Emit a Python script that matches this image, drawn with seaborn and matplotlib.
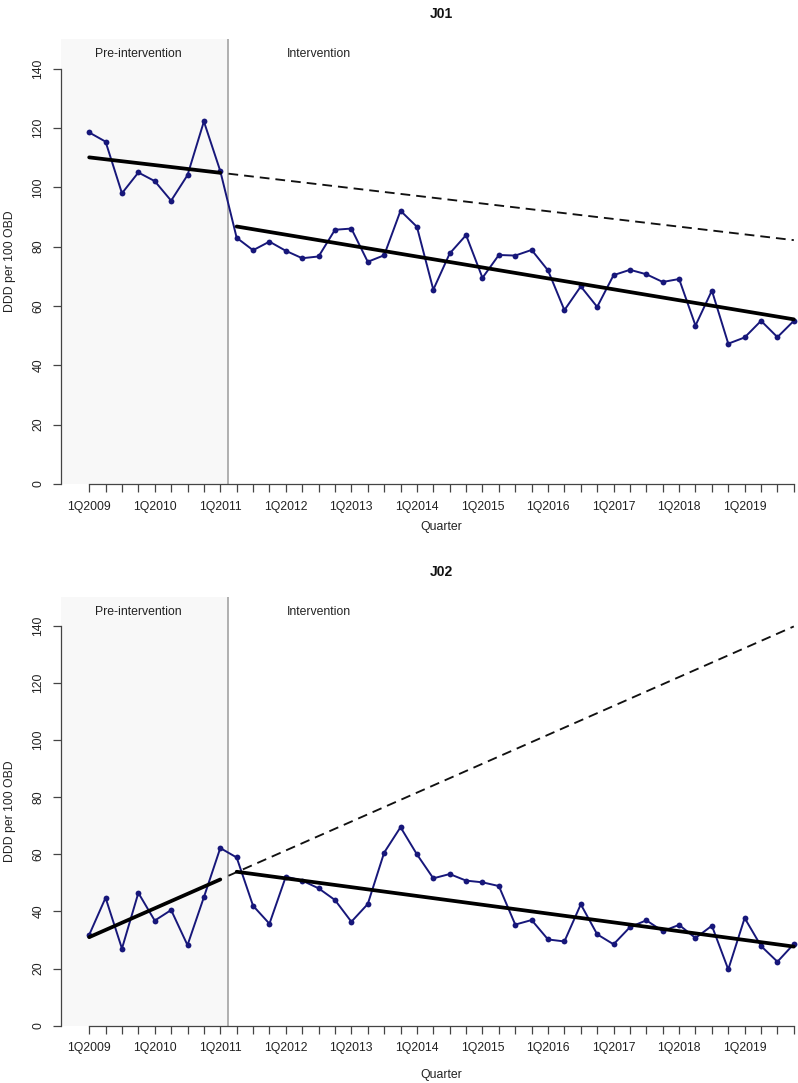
import numpy as np
import pandas as pd
import seaborn as sns
import matplotlib.pyplot as plt

# quarters 1Q2009 .. 4Q2019, only the first quarter of each year is labelled
quarters = [f"{q}Q{y}" for y in range(2009, 2020) for q in range(1, 5)]
intervention_at = 8.5

j01 = [118.5, 115.4, 98.0, 105.0, 102.1, 95.5, 104.1, 122.2, 105.5,
       83.0, 78.8, 81.7, 78.6, 76.1, 76.7, 85.7, 86.1, 74.9, 77.1, 92.1,
       86.7, 65.5, 77.7, 83.9, 69.5, 77.2, 77.0, 78.9, 72.0, 58.6,
       66.6, 59.7, 70.4, 72.2, 70.7, 68.1, 69.1, 53.4, 65.2, 47.3,
       49.4, 55.0, 49.5, 55.0]
j02 = [31.8, 44.8, 27.0, 46.5, 36.8, 40.5, 28.2, 45.0, 62.2,
       58.9, 42.0, 35.7, 52.2, 50.8, 48.1, 44.0, 36.4, 42.6, 60.6, 69.5,
       60.0, 51.6, 53.1, 50.8, 50.2, 48.9, 35.4, 37.0, 30.2, 29.5,
       42.5, 32.0, 28.5, 34.5, 36.9, 33.1, 35.3, 30.7, 35.0, 19.7,
       37.7, 27.9, 22.4, 28.6]

# fitted segments (quarter index -> value)
pre_x = [0, 8]
cf_x = [8.5, 43]
post_x = [9, 43]
j01_pre = [110.1, 104.9]
j01_cf = [104.6, 82.2]
j01_post = [86.8, 55.5]
j02_pre = [31.0, 51.2]
j02_cf = [52.5, 139.8]
j02_post = [53.9, 27.7]

sns.set_style("ticks")
plt.rcParams['font.family'] = ['Liberation Sans', 'DejaVu Sans']
plt.rcParams['font.size'] = 8.7

navy = "#17177a"
fs = 8.8

dpi = 100
fig = plt.figure(figsize=(798 / dpi, 1083 / dpi), dpi=dpi)

W, H = 798, 1083
ax_top = fig.add_axes([61 / W, (H - 484) / H, 761 / W, 445 / H])
ax_bot = fig.add_axes([61 / W, (H - 1025.7) / H, 761 / W, 428.4 / H])

panels = [
    (ax_top, "J01", j01, j01_pre, j01_cf, j01_post, -0.083),
    (ax_bot, "J02", j02, j02_pre, j02_cf, j02_post, -0.101),
]

idx = np.arange(len(quarters))
for ax, title, vals, pre, cf, post, xl_y in panels:
    df = pd.DataFrame({"quarter": idx, "ddd": vals})
    ax.set_xlim(-1.72, 44.72)
    ax.set_ylim(0, 150)
    ax.axvspan(-1.72, intervention_at, color="#f8f8f8", lw=0, zorder=0)
    ax.axvline(intervention_at, color="#aaaaaa", lw=1.3, zorder=1)

    sns.lineplot(data=df, x="quarter", y="ddd", ax=ax, color=navy, lw=1.4,
                 marker="o", markersize=4.2, mec=navy, mew=0, zorder=3)
    sns.lineplot(x=pre_x, y=pre, ax=ax, color="black", lw=2.7, zorder=4)
    sns.lineplot(x=post_x, y=post, ax=ax, color="black", lw=2.7, zorder=4)
    sns.lineplot(x=cf_x, y=cf, ax=ax, color="#111111", lw=1.35,
                 linestyle=(0, (5.2, 3.2)), zorder=2)

    ax.text(3, 145, "Pre-intervention", ha="center", va="center", fontsize=fs,
            color="#222222")
    ax.text(14, 145, "Intervention", ha="center", va="center", fontsize=fs,
            color="#222222")

    ax.set_xticks(idx)
    ax.set_xticklabels([q if q.startswith("1Q") else "" for q in quarters])
    ax.set_yticks(np.arange(0, 141, 20))
    plt.setp(ax.get_yticklabels(), rotation=90, va="center")
    ax.tick_params(axis="both", length=5.5, width=0.9, color="#444444",
                   labelsize=fs, labelcolor="#222222", pad=6.5)

    sns.despine(ax=ax)
    ax.spines["left"].set_bounds(0, 140)
    ax.spines["bottom"].set_bounds(0, 43)
    for s in ("left", "bottom"):
        ax.spines[s].set_linewidth(0.9)
        ax.spines[s].set_color("#444444")

    ax.set_ylabel("DDD per 100 OBD", fontsize=fs, color="#222222")
    ax.yaxis.set_label_coords(-0.059, 0.5)
    ax.set_xlabel("Quarter", fontsize=fs, color="#222222")
    ax.xaxis.set_label_coords(0.5, xl_y)
    ax.set_title(title, fontweight="bold", fontsize=10, pad=15,
                 color="#111111")

fig.savefig("out.png", dpi=dpi)
